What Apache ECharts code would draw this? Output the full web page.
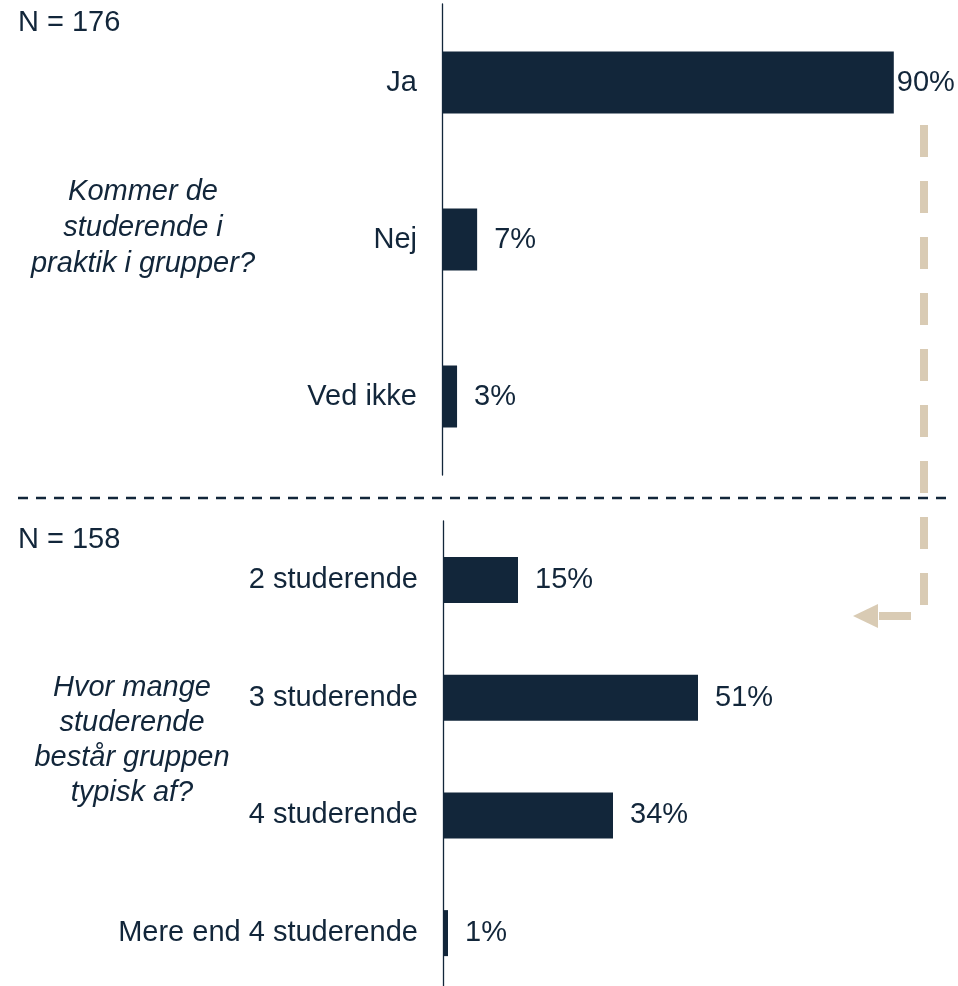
<!DOCTYPE html>
<html>
<head>
<meta charset="utf-8">
<script src="https://cdn.jsdelivr.net/npm/echarts@6/dist/echarts.min.js"></script>
<style>
  html, body { margin: 0; padding: 0; background: #fff; }
  #chart { width: 958px; height: 986px; }
</style>
</head>
<body>
<div id="chart"></div>
<script>
// spørgsmål 1
var cats1 = ['Ja', 'Nej', 'Ved ikke'];
var vals1 = [90, 7, 3];
var n1 = 'N = 176';
var question1 = 'Kommer de\nstuderende i\npraktik i grupper?';

// spørgsmål 2
var cats2 = ['2 studerende', '3 studerende', '4 studerende', 'Mere end 4 studerende'];
var vals2 = [15, 51, 34, 1];
var n2 = 'N = 158';
var question2 = 'Hvor mange\nstuderende\nbestår gruppen\ntypisk af?';

var navy = '#12263a';
var beige = '#d9cbb4';
var font = '"Liberation Sans", Arial, sans-serif';
var fs = 29;

var myChart = echarts.init(document.getElementById('chart'));

function yAxisFor(idx, cats) {
  return {
    type: 'category',
    gridIndex: idx,
    data: cats,
    inverse: true,
    axisLine: { show: true, lineStyle: { color: navy, width: 1.3 } },
    axisTick: { show: false },
    axisLabel: { color: navy, fontSize: fs, fontFamily: font, margin: 25 }
  };
}
function xAxisFor(idx) {
  return {
    type: 'value',
    gridIndex: idx,
    min: 0,
    max: 100,
    show: false
  };
}
function labelData(vals, tight) {
  return vals.map(function (v, i) {
    var d = { value: v };
    if (tight === i) d.label = { distance: 3 };
    return d;
  });
}

var option = {
  animation: false,
  backgroundColor: '#fff',
  grid: [
    { left: 442, top: 4, width: 502, height: 471, outerBoundsMode: 'none' },
    { left: 443, top: 521, width: 500, height: 471, outerBoundsMode: 'none' }
  ],
  xAxis: [xAxisFor(0), xAxisFor(1)],
  yAxis: [yAxisFor(0, cats1), yAxisFor(1, cats2)],
  series: [
    {
      type: 'bar',
      xAxisIndex: 0,
      yAxisIndex: 0,
      barWidth: 62,
      itemStyle: { color: navy },
      label: {
        show: true, position: 'right', distance: 17,
        formatter: '{c}%', color: navy, fontSize: fs, fontFamily: font
      },
      data: labelData(vals1, 0)
    },
    {
      type: 'bar',
      xAxisIndex: 1,
      yAxisIndex: 1,
      barWidth: 46,
      itemStyle: { color: navy },
      label: {
        show: true, position: 'right', distance: 17,
        formatter: '{c}%', color: navy, fontSize: fs, fontFamily: font
      },
      data: labelData(vals2)
    }
  ],
  graphic: [
    {
      type: 'text', x: 18, y: 23,
      style: { text: n1, fill: navy, font: fs + 'px ' + font, textVerticalAlign: 'middle' }
    },
    {
      type: 'text', x: 18, y: 540,
      style: { text: n2, fill: navy, font: fs + 'px ' + font, textVerticalAlign: 'middle' }
    },
    {
      type: 'text', x: 143, y: 228,
      style: {
        text: question1, fill: navy, font: 'italic ' + fs + 'px ' + font,
        textAlign: 'center', textVerticalAlign: 'middle', lineHeight: 36
      }
    },
    {
      type: 'text', x: 132, y: 740,
      style: {
        text: question2, fill: navy, font: 'italic ' + fs + 'px ' + font,
        textAlign: 'center', textVerticalAlign: 'middle', lineHeight: 35
      }
    },
    {
      // skillelinje
      type: 'line',
      shape: { x1: 18, y1: 498, x2: 946, y2: 498 },
      style: { stroke: navy, lineWidth: 2.5, lineDash: [10, 8] }
    },
    {
      // pil fra Ja ned til spørgsmål 2
      type: 'polyline',
      shape: { points: [[924, 125], [924, 616], [879, 616]] },
      style: { stroke: beige, lineWidth: 8, lineDash: [32, 24], fill: null, lineCap: 'butt' }
    },
    {
      type: 'polygon',
      shape: { points: [[853, 616], [878, 604], [878, 628]] },
      style: { fill: beige }
    }
  ]
};

myChart.setOption(option);
</script>
</body>
</html>
